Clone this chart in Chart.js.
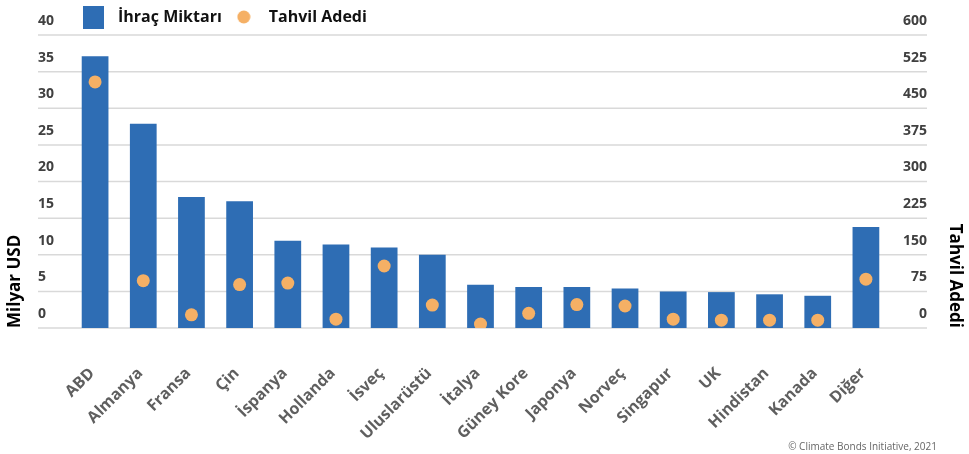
<!DOCTYPE html>
<html>
<head>
<meta charset="utf-8">
<script src="https://cdn.jsdelivr.net/npm/chart.js@4"></script>
<style>
  body { margin: 0; background: #fff; }
  #wrap { position: relative; width: 969px; height: 454px; }
  #kaynak {
    position: absolute; right: 32px; bottom: 1px;
    font: 10px 'Open Sans', sans-serif; color: #666;
  }
</style>
</head>
<body>
<div id="wrap">
  <canvas id="myChart"></canvas>
  <div id="kaynak">© Climate Bonds Initiative, 2021</div>
</div>
<script>
const ulkeler = ['ABD', 'Almanya', 'Fransa', 'Çin', 'İspanya', 'Hollanda', 'İsveç', 'Uluslarüstü',
  'İtalya', 'Güney Kore', 'Japonya', 'Norveç', 'Singapur', 'UK', 'Hindistan', 'Kanada', 'Diğer'];
// Milyar USD
const ihracMiktari = [37.1, 27.9, 17.9, 17.3, 11.9, 11.4, 11.0, 10.0, 5.9, 5.6, 5.6, 5.4, 5.0, 4.9, 4.6, 4.4, 13.8];
// adet
const tahvilAdedi = [504, 97, 27, 89, 92, 18, 127, 47, 8, 30, 48, 45, 18, 16, 16, 16, 100];

const solMax = 40, solAdim = 5;
const sagMax = 600, sagAdim = 75;

const mavi = '#2e6db4';
const turuncu = '#f5b065';

// legend ikonlari
const kutu = document.createElement('canvas');
kutu.width = 21; kutu.height = 23;
kutu.getContext('2d').fillStyle = mavi;
kutu.getContext('2d').fillRect(0, 0, 21, 23);

const nokta = document.createElement('canvas');
nokta.width = 14; nokta.height = 14;
const nctx = nokta.getContext('2d');
nctx.fillStyle = turuncu;
nctx.beginPath(); nctx.arc(7, 7, 6.5, 0, Math.PI * 2); nctx.fill();

// yatay cizgiler, sol etiketlerden sag etiketlere kadar
const izgara = {
  id: 'izgara',
  beforeDatasetsDraw(chart) {
    const { ctx, scales: { y, y1 } } = chart;
    ctx.save();
    ctx.strokeStyle = '#d9d9d9';
    ctx.lineWidth = 1.5;
    y.ticks.forEach((t) => {
      const py = y.getPixelForValue(t.value);
      ctx.beginPath();
      ctx.moveTo(y.left, py);
      ctx.lineTo(y1.right, py);
      ctx.stroke();
    });
    ctx.restore();
  },
};

const bos = { display: false };

new Chart(document.getElementById('myChart'), {
  type: 'bar',
  data: {
    labels: ulkeler,
    datasets: [
      {
        label: 'İhraç Miktarı',
        data: ihracMiktari,
        backgroundColor: mavi,
        barPercentage: 0.555,
        categoryPercentage: 1,
        yAxisID: 'y',
        order: 2,
      },
      {
        type: 'line',
        label: 'Tahvil Adedi',
        data: tahvilAdedi,
        showLine: false,
        pointRadius: 6.5,
        pointBackgroundColor: turuncu,
        pointBorderWidth: 0,
        backgroundColor: turuncu,
        yAxisID: 'y1',
        order: 1,
      },
    ],
  },
  options: {
    responsive: true,
    maintainAspectRatio: false,
    animation: false,
    layout: { padding: { top: 4 } },
    plugins: {
      tooltip: { enabled: false },
      legend: {
        position: 'top',
        align: 'start',
        fullSize: false,
        labels: {
          usePointStyle: true,
          pointStyleWidth: 34,
          padding: 5,
          color: '#111',
          font: { family: 'Open Sans', size: 16, weight: 'bold' },
          generateLabels(chart) {
            const items = Chart.defaults.plugins.legend.labels.generateLabels(chart);
            items.sort((a, b) => a.datasetIndex - b.datasetIndex);
            items[0].pointStyle = kutu;
            items[1].pointStyle = nokta;
            return items;
          },
        },
      },
    },
    scales: {
      x: {
        grid: bos,
        border: bos,
        ticks: {
          autoSkip: false,
          minRotation: 45,
          maxRotation: 45,
          padding: 28,
          labelOffset: -3,
          color: '#5f5f5f',
          font: { family: 'Open Sans', size: 16, weight: 'bold' },
        },
        afterFit(s) { s.height = 126; },
      },
      y: {
        position: 'left',
        min: 0,
        max: solMax,
        grid: bos,
        border: bos,
        ticks: {
          stepSize: solAdim,
          crossAlign: 'far',
          labelOffset: -14,
          padding: 0,
          color: '#404040',
          font: { family: 'Open Sans', size: 14, weight: 'bold' },
        },
        afterFit(s) { s.width = 33; },
      },
      yBaslik: {
        position: 'left',
        weight: 1,
        grid: bos,
        border: bos,
        ticks: { display: false },
        title: {
          display: true,
          text: 'Milyar USD',
          align: 'start',
          color: '#000',
          padding: { top: 5, bottom: 0 },
          font: { family: 'Open Sans', size: 17, weight: 'bold' },
        },
        afterFit(s) { s.width = 38; },
      },
      y1: {
        position: 'right',
        min: 0,
        max: sagMax,
        grid: bos,
        border: bos,
        ticks: {
          stepSize: sagAdim,
          crossAlign: 'far',
          labelOffset: -14,
          padding: 0,
          color: '#404040',
          font: { family: 'Open Sans', size: 14, weight: 'bold' },
        },
        afterFit(s) { s.width = 37; },
      },
      y1Baslik: {
        position: 'right',
        weight: 1,
        grid: bos,
        border: bos,
        ticks: { display: false },
        title: {
          display: true,
          text: 'Tahvil Adedi',
          align: 'start',
          color: '#000',
          padding: { top: 4, bottom: 0 },
          font: { family: 'Open Sans', size: 17, weight: 'bold' },
        },
        afterFit(s) { s.width = 42; },
      },
    },
  },
  plugins: [izgara],
});
</script>
</body>
</html>
